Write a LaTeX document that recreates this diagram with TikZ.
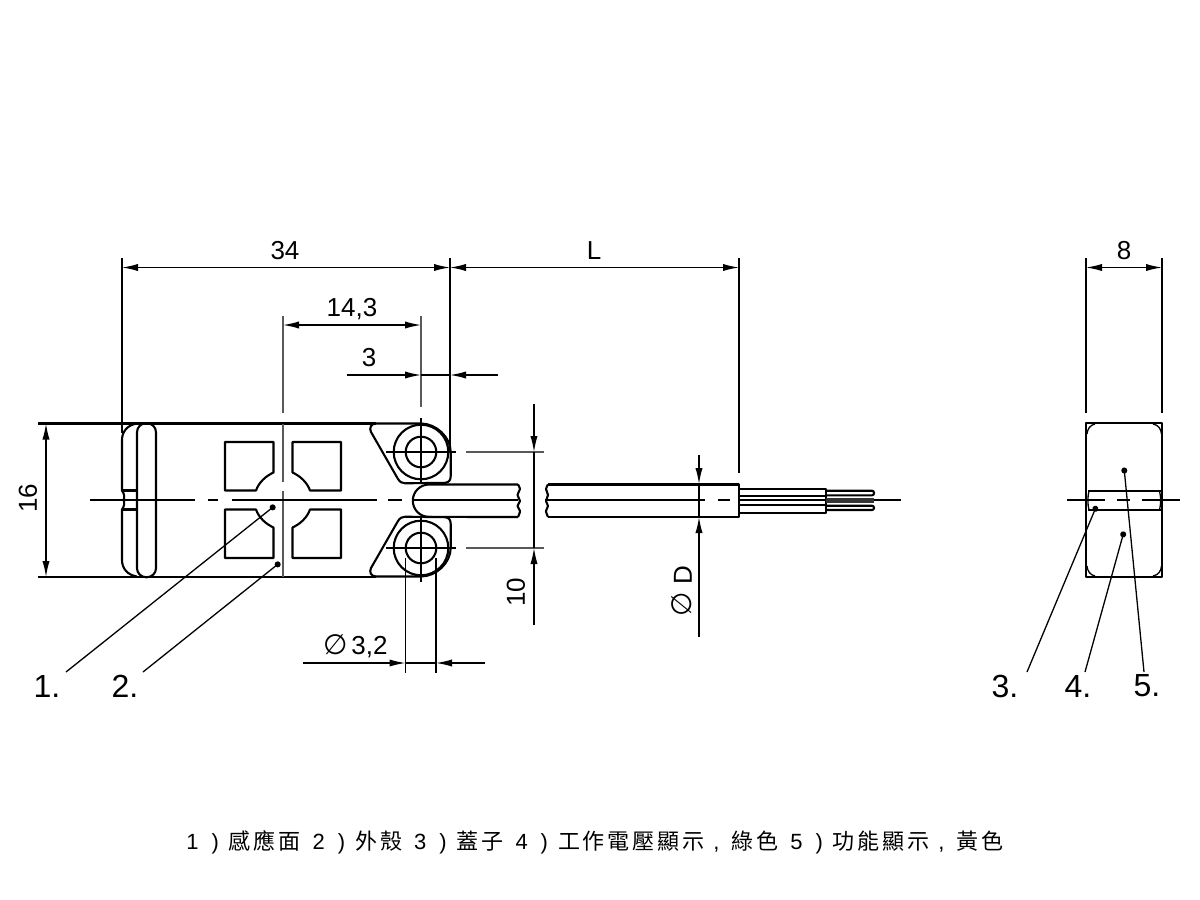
\documentclass[tikz,border=0pt]{standalone}
\usepackage{fontspec}
\setmainfont{Liberation Sans}
\newfontfamily\cjkfont[LetterSpace=13]{Noto Sans CJK TC}
\newfontfamily\symfont{DejaVu Sans}
\usetikzlibrary{arrows.meta}
\tikzset{outline/.style={line width=1.05pt, line join=round}}
\tikzset{thinline/.style={line width=0.65pt}}
\tikzset{greyline/.style={line width=0.8pt, black!65}}
\tikzset{dimtip/.style={-{Latex[length=8pt,width=3.6pt]}}}
\tikzset{dimtips/.style={{Latex[length=8pt,width=3.6pt]}-{Latex[length=8pt,width=3.6pt]}}}
\tikzset{leader/.style={thinline, {Circle[length=3pt]}-}}
\tikzset{dimtext/.style={inner sep=0pt, font=\fontsize{13}{15}\selectfont}}
\tikzset{parttext/.style={inner sep=0pt, font=\fontsize{16}{18}\selectfont}}
\newcommand\partno[1]{#1\hspace{6.5pt})\hspace{5pt}}
\newcommand\partgap{\hspace{6pt}}
\newcommand\comma{\hspace{4.5pt},\hspace{6pt}}
\begin{document}
\begin{tikzpicture}[x=0.5pt, y=-0.5pt]
\useasboundingbox (0,0) rectangle (1200,900);
% body
\draw[outline] (38,423.5) to (376,423.5);
\draw[outline] (38,577) to (376,577);
\node (bandleft) [draw, outline, rounded corners=4.5pt, minimum width=9.5pt, minimum height=77pt, inner sep=0pt] at (146.5,500.2) {};
\foreach \s in {1,-1} {
\begin{scope}[shift={(0,500)}, yscale=\s]
% left cap
\draw[outline] (137,-76.5) .. controls (127,-75) and (122,-68) .. (122,-60) to (122,-9.5) .. controls (124.5,-6) and (124.5,-3) .. (124,0);
\draw[outline] (122,-9.5) to (137,-9.5);
% windows
\foreach \t in {1,-1} {
\begin{scope}[shift={(283,0)}, xscale=\t]
\draw[outline] (-9.5,-27.5) to (-9.5,-58) to (-58,-58) to (-58,-9.5) to (-27,-9.5) .. controls (-24,-18) and (-17,-24) .. cycle;
\end{scope}
}
% ear and boss
\draw[outline] (421,-76.5) to (376,-76.5) .. controls (371,-76.5) and (369,-72) .. (371,-68) to (398,-21) .. controls (400,-18) and (402,-16.7) .. (405,-16.7) to (445,-17.2) .. controls (449,-17.5) and (450.7,-20) .. (450.7,-24) to (450.7,-48);
\draw[outline] (421,-76.5) .. controls (436,-76.5) and (450.7,-63) .. (450.7,-48);
\node (boss\s) [draw, outline, circle, minimum size=27.3pt, inner sep=0pt] at (421,-48) {};
\node (hole\s) [draw, outline, circle, minimum size=15.3pt, inner sep=0pt] at (421,-48) {};
% centre lines of the boss, and dimension 10
\draw[thinline] (386,-48) to (456,-48);
\draw[greyline] (466,-48) to (544,-48);
\draw[thinline] (421,-82) to (421,-17);
\end{scope}
}
% centre lines
\draw[greyline] (283,316) to (283,413);
\draw[greyline] (283,423.5) to (283,482);
\draw[greyline] (283,491) to (283,577);
\draw[thinline] (90,500) to (195,500);
\draw[thinline] (208,500) to (218,500);
\draw[thinline] (232,500) to (377,500);
\draw[thinline] (388,500) to (402,500);
\draw[thinline] (413,500) to (518,500);
\draw[thinline] (545,500) to (705,500);
\draw[thinline] (718,500) to (730,500);
\draw[thinline] (740,500) to (901,500);
% cable
\draw[outline] (518,484.5) to (429,484.5) arc[start angle=270, end angle=90, radius=16.2] to (518,517);
\draw[outline] plot[smooth] coordinates {(518,484.5) (520,489) (517.5,495) (520,501) (517.5,506) (520,511) (518,517)};
\draw[outline] plot[smooth] coordinates {(548,484.5) (546,489) (548,495) (546,501) (548,506) (546,511) (548,517)};
\draw[outline] (548,484.5) to (739,484.5) to (739,517) to (548,517);
\draw[outline] (739,488.7) to (826,488.7) to (826,512.7) to (739,512.7);
\draw[outline] (739,496) to (826,496);
\draw[outline] (739,505) to (826,505);
\draw[outline, rounded corners=1pt] (826,490.7) to (874,490.7) to (874,495.3) to (826,495.3);
\draw[outline, rounded corners=1pt] (826,505.7) to (874,505.7) to (874,510) to (826,510);
\fill[black!80] (826,498.3) rectangle (874,503.3);
% side view
\node (side) [draw, outline, minimum width=38pt, minimum height=77pt, inner sep=0pt] at (1124.2,500.4) {};
\draw[outline] (1088,491) to (1160.5,491);
\draw[outline] (1088,510) to (1160.5,510);
\draw[thinline] (1089,491) .. controls (1087.5,497) and (1087.5,504) .. (1089,510);
\draw[thinline] (1159.5,491) .. controls (1161,497) and (1161,504) .. (1159.5,510);
\foreach \s in {1,-1} {
\begin{scope}[shift={(0,500)}, yscale=\s]
\draw[thinline] (1087,-66) .. controls (1087.5,-71) and (1090,-75) .. (1095,-76);
\draw[thinline] (1161.5,-66) .. controls (1161,-71) and (1158.5,-75) .. (1153,-76);
\end{scope}
}
\draw[thinline] (1067,500) to (1105,500);
\draw[thinline] (1117,500) to (1130,500);
\draw[thinline] (1142,500) to (1180,500);
% dimension 34, L
\coordinate (a) at (122,267.5);
\coordinate (b) at (450,267.5);
\coordinate (c) at (739,267.5);
\draw[thinline] (122,258) to (122,433);
\draw[thinline] (450,258) to (450,452);
\draw[thinline] (739,258) to (739,473);
\draw[thinline, dimtips] (a) to (b);
\draw[thinline, dimtips] (b) to (c);
\node (l34) [dimtext] at (285,251) {34};
\node (lL) [dimtext] at (594,251) {L};
% dimension 14,3
\coordinate (d) at (283,325);
\coordinate (e) at (421,325);
\draw[thinline, dimtips] (d) to (e);
\draw[greyline] (421,316) to (421,407);
\node (l143) [dimtext] at (352,309) {14,3};
% dimension 3
\coordinate (f) at (347,375);
\coordinate (g) at (421,375);
\coordinate (h) at (450,375);
\coordinate (i) at (498,375);
\draw[thinline, dimtip] (f) to (g);
\draw[thinline, dimtip] (i) to (h);
\draw[thinline] (g) to (h);
\node (l3) [dimtext] at (369,358) {3};
% dimension 8
\coordinate (j) at (1086,267.5);
\coordinate (k) at (1162,267.5);
\draw[thinline] (1086,258) to (1086,413);
\draw[thinline] (1162,258) to (1162,413);
\draw[thinline, dimtips] (j) to (k);
\node (l8) [dimtext] at (1124,251) {8};
% dimension 16
\coordinate (m) at (46,423.5);
\coordinate (n) at (46,577);
\draw[thinline, dimtips] (m) to (n);
\node (l16) [dimtext, rotate=90] at (28,498) {16};
% dimension 10
\coordinate (o) at (534,404);
\coordinate (p) at (534,452);
\coordinate (q) at (534,625);
\coordinate (r) at (534,548);
\draw[thinline, dimtip] (o) to (p);
\draw[thinline, dimtip] (q) to (r);
\draw[thinline] (p) to (r);
\node (l10) [dimtext, rotate=90] at (516,592) {10};
% dimension D
\coordinate (s) at (699,455);
\coordinate (t) at (699,484);
\coordinate (u) at (699,637);
\coordinate (v) at (699,517);
\draw[thinline, dimtip] (s) to (t);
\draw[thinline, dimtip] (u) to (v);
\draw[thinline] (t) to (v);
\node (lD) [dimtext, rotate=90] at (682,591) {{\symfont\fontsize{14}{14}\selectfont ∅} D};
% dimension 3,2
\coordinate (w) at (303,663);
\coordinate (x) at (405.5,663);
\coordinate (y) at (485,663);
\coordinate (z) at (436,663);
\draw[thinline] (405.5,558) to (405.5,673);
\draw[thinline] (436,558) to (436,673);
\draw[thinline, dimtip] (w) to (x);
\draw[thinline, dimtip] (y) to (z);
\draw[thinline] (x) to (z);
\node (l32) [dimtext, anchor=east] at (388,646) {{\symfont\fontsize{14}{14}\selectfont ∅}\hspace{2pt}3,2};
% parts
\node (p1) [parttext] at (47,686) {1.};
\node (p2) [parttext] at (125,686) {2.};
\node (p3) [parttext] at (1005,686) {3.};
\node (p4) [parttext] at (1078,686) {4.};
\node (p5) [parttext] at (1147,686) {5.};
\coordinate (p1a) at (66,672);
\coordinate (p2a) at (143,672);
\coordinate (p3a) at (1027,672);
\coordinate (p4a) at (1085,672);
\coordinate (p5a) at (1144,672);
\coordinate (d1) at (275,505.5);
\coordinate (d2) at (280,562.5);
\coordinate (d3) at (1096.5,506);
\coordinate (d4) at (1124,531.5);
\coordinate (d5) at (1124,467.5);
\draw[leader] (d1) to (p1a);
\draw[leader] (d2) to (p2a);
\draw[leader] (d3) to (p3a);
\draw[leader] (d4) to (p4a);
\draw[leader] (d5) to (p5a);
% caption
\node (caption) [inner sep=0pt, anchor=west, font=\fontsize{11}{13}\selectfont] at (186,842) {\partno{1}{\cjkfont 感應面}\partgap\partno{2}{\cjkfont 外殼}\partgap\partno{3}{\cjkfont 蓋子}\partgap\partno{4}{\cjkfont 工作電壓顯示}\comma{\cjkfont 綠色}\partgap\partno{5}{\cjkfont 功能顯示}\comma{\cjkfont 黃色}};
\end{tikzpicture}
\end{document}
